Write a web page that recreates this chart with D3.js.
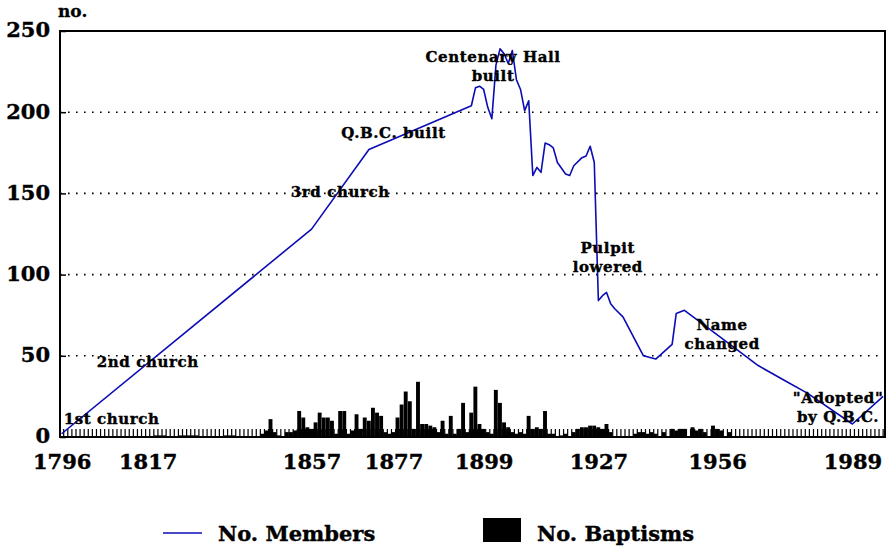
<!DOCTYPE html>
<html>
<head>
<meta charset="utf-8">
<script src="https://cdn.jsdelivr.net/npm/d3@7"></script>
<style>
  body { margin: 0; background: #fff; }
  svg text { font-family: "DejaVu Serif", "Liberation Serif", serif; font-weight: bold; fill: #000; }
</style>
</head>
<body>
<div id="chart"></div>
<script>
// membership (year, members)
const memberYears = [1796, 1857, 1871, 1896, 1897, 1898, 1899, 1900, 1901, 1902, 1903, 1904, 1905, 1906, 1907, 1908, 1909, 1910,
  1911, 1912, 1913, 1914, 1915, 1916, 1917, 1919, 1920, 1921, 1923, 1924, 1925, 1926,
  1927, 1928, 1929, 1930, 1931, 1933, 1938, 1941, 1945, 1946, 1948, 1957, 1966, 1973, 1978, 1989, 1996.5];
const memberCounts = [2, 128, 177, 204, 215, 216, 214, 203, 196, 229, 239, 236, 230, 238, 220, 214, 201, 207,
  161, 166, 163, 181, 180, 178, 169, 162, 161, 167, 172, 173, 179, 169,
  84, 87, 89, 82, 79, 74, 50, 48, 57, 76, 78, 61, 44, 34, 27, 8, 25];

// baptisms per year (years not listed are 0)
const baptismYears = [1819, 1820, 1821, 1825, 1826, 1827, 1828, 1829, 1836, 1837, 1838,
  1845, 1846, 1847, 1848, 1849, 1851, 1852, 1853, 1854, 1855, 1856, 1857, 1858, 1859, 1860,
  1861, 1862, 1863, 1864, 1865, 1866, 1867, 1868, 1869, 1870, 1871, 1872, 1873, 1874, 1875,
  1876, 1877, 1878, 1879, 1880, 1881, 1882, 1883, 1884, 1885, 1886, 1887, 1888, 1889, 1890,
  1891, 1892, 1893, 1894, 1895, 1896, 1897, 1898, 1899, 1900, 1901, 1902, 1903, 1904, 1905,
  1906, 1907, 1908, 1909, 1910, 1911, 1912, 1913, 1914, 1915, 1916, 1918, 1919, 1921, 1922,
  1923, 1924, 1925, 1926, 1927, 1928, 1929, 1930, 1936, 1937, 1938, 1939, 1940, 1941, 1943,
  1945, 1946, 1947, 1948, 1950, 1951, 1952, 1953, 1955, 1956, 1957, 1959];
const baptismCounts = [1, 1, 1, 1, 1, 1, 1, 1, 1, 1, 1,
  2, 4, 11, 3, 1, 3, 3, 4, 16, 12, 6, 5, 9, 15, 12,
  12, 10, 2, 16, 16, 2, 4, 14, 5, 12, 10, 18, 15, 13, 3,
  2, 3, 12, 20, 28, 22, 5, 34, 8, 8, 7, 6, 3, 10, 2,
  13, 2, 5, 21, 3, 15, 31, 8, 5, 3, 2, 29, 21, 9, 6,
  3, 2, 3, 2, 13, 5, 6, 5, 16, 2, 2, 1, 2, 3, 5,
  6, 6, 7, 7, 6, 5, 8, 3, 2, 3, 3, 2, 3, 2, 3,
  5, 4, 5, 5, 6, 4, 5, 3, 7, 5, 4, 3];

const yearTicks = [1796, 1817, 1857, 1877, 1899, 1927, 1956, 1989];
const valueTicks = [0, 50, 100, 150, 200, 250];

const events = [
  { year: 1796, value: 8, lines: ["1st church"], anchor: "start" },
  { year: 1817, value: 43, lines: ["2nd church"] },
  { year: 1864, value: 148, lines: ["3rd church"] },
  { year: 1877, value: 184, lines: ["Q.B.C. built"] },
  { year: 1901.3, value: 231, lines: ["Centenary Hall", "built"] },
  { year: 1929.3, value: 113, lines: ["Pulpit", "lowered"] },
  { year: 1957.2, value: 66, lines: ["Name", "changed"] },
  { year: 1985.5, value: 21, lines: ["\"Adopted\"", "by Q.B.C."] }
];

const W = 886, H = 547;
const plot = { left: 60, right: 886, top: 31, bottom: 437 };

const svg = d3.select("#chart").append("svg")
  .attr("width", W)
  .attr("height", H);

const x = d3.scaleLinear()
  .domain([1795.6, 1997.2])
  .range([plot.left, plot.right]);

const y = d3.scaleLinear()
  .domain([0, 250])
  .range([plot.bottom, plot.top]);

const step = x(1797) - x(1796);

// dotted gridlines
svg.append("g")
  .selectAll("line")
  .data(valueTicks.filter(v => v > 0 && v < 250))
  .enter()
  .append("line")
  .attr("x1", plot.left)
  .attr("x2", plot.right)
  .attr("y1", d => y(d))
  .attr("y2", d => y(d))
  .attr("stroke", "#000")
  .attr("stroke-width", 1.6)
  .attr("stroke-dasharray", "1.6,6.4");

// year tick comb along the bottom (inside)
const allYears = d3.range(1796, 1997);
svg.append("g")
  .selectAll("line")
  .data(allYears)
  .enter()
  .append("line")
  .attr("x1", d => x(d + 0.5))
  .attr("x2", d => x(d + 0.5))
  .attr("y1", plot.bottom)
  .attr("y2", plot.bottom - 8)
  .attr("stroke", "#000")
  .attr("stroke-width", 1.2);

// baptism bars
const bapData = baptismYears.map((yr, i) => ({ year: yr, value: baptismCounts[i] }));
svg.append("g")
  .selectAll("rect")
  .data(bapData)
  .enter()
  .append("rect")
  .attr("x", d => x(d.year) - step / 2)
  .attr("y", d => y(d.value))
  .attr("width", step - 0.2)
  .attr("height", d => y(0) - y(d.value))
  .attr("fill", "#000");

// members line
const memData = memberYears.map((yr, i) => ({ year: yr, value: memberCounts[i] }));
const line = d3.line()
  .x(d => x(d.year))
  .y(d => y(d.value));

svg.append("path")
  .datum(memData)
  .attr("fill", "none")
  .attr("stroke", "#0c0cb4")
  .attr("stroke-width", 1.6)
  .attr("stroke-linejoin", "round")
  .attr("d", line);

// frame
svg.append("rect")
  .attr("x", plot.left)
  .attr("y", plot.top)
  .attr("width", plot.right - plot.left - 1)
  .attr("height", plot.bottom - plot.top)
  .attr("fill", "none")
  .attr("stroke", "#000")
  .attr("stroke-width", 2);

// y axis
const yAxis = svg.append("g")
  .attr("transform", `translate(${plot.left},0)`)
  .call(d3.axisLeft(y).tickValues(valueTicks).tickSize(-6).tickPadding(10));
yAxis.select(".domain").remove();
yAxis.selectAll(".tick line").attr("stroke-width", 1.5);
yAxis.selectAll("text")
  .attr("dy", "0.28em")
  .style("font-size", "21px")
  .style("font-family", "DejaVu Serif")
  .style("font-weight", "bold")
  .style("stroke", "#000")
  .style("stroke-width", 0.4);

// x axis labels
const xAxis = svg.append("g")
  .attr("transform", `translate(0,${plot.bottom})`)
  .call(d3.axisBottom(x).tickValues(yearTicks).tickFormat(d3.format("d")).tickSize(0).tickPadding(17));
xAxis.select(".domain").remove();
xAxis.selectAll("text")
  .style("font-size", "21px")
  .style("font-family", "DejaVu Serif")
  .style("font-weight", "bold")
  .style("stroke", "#000")
  .style("stroke-width", 0.4);

svg.append("text")
  .attr("x", 58)
  .attr("y", 17)
  .style("font-size", "17px")
  .style("stroke", "#000")
  .style("stroke-width", 0.3)
  .text("no.");

// annotations
events.forEach(ev => {
  const px = x(ev.year) + (ev.anchor ? 2 : 0);
  const t = svg.append("text")
    .attr("text-anchor", ev.anchor || "middle")
    .style("font-size", "15px")
    .style("letter-spacing", "0.6px")
    .style("stroke", "#000")
    .style("stroke-width", 0.4)
    .attr("x", px)
    .attr("y", y(ev.value));
  ev.lines.forEach((s, i) => {
    t.append("tspan")
      .attr("x", px)
      .attr("dy", i === 0 ? 0 : 19)
      .text(s);
  });
});

// legend
const legend = svg.append("g");
legend.append("line")
  .attr("x1", 163).attr("x2", 202)
  .attr("y1", 533).attr("y2", 533)
  .attr("stroke", "#0c0cb4")
  .attr("stroke-width", 1.6);
legend.append("text")
  .attr("x", 218).attr("y", 541)
  .style("font-size", "21px")
  .style("stroke", "#000")
  .style("stroke-width", 0.4)
  .text("No. Members");
legend.append("rect")
  .attr("x", 483).attr("y", 518)
  .attr("width", 38).attr("height", 24)
  .attr("fill", "#000");
legend.append("text")
  .attr("x", 537).attr("y", 541)
  .style("font-size", "21px")
  .style("stroke", "#000")
  .style("stroke-width", 0.4)
  .text("No. Baptisms");
</script>
</body>
</html>
